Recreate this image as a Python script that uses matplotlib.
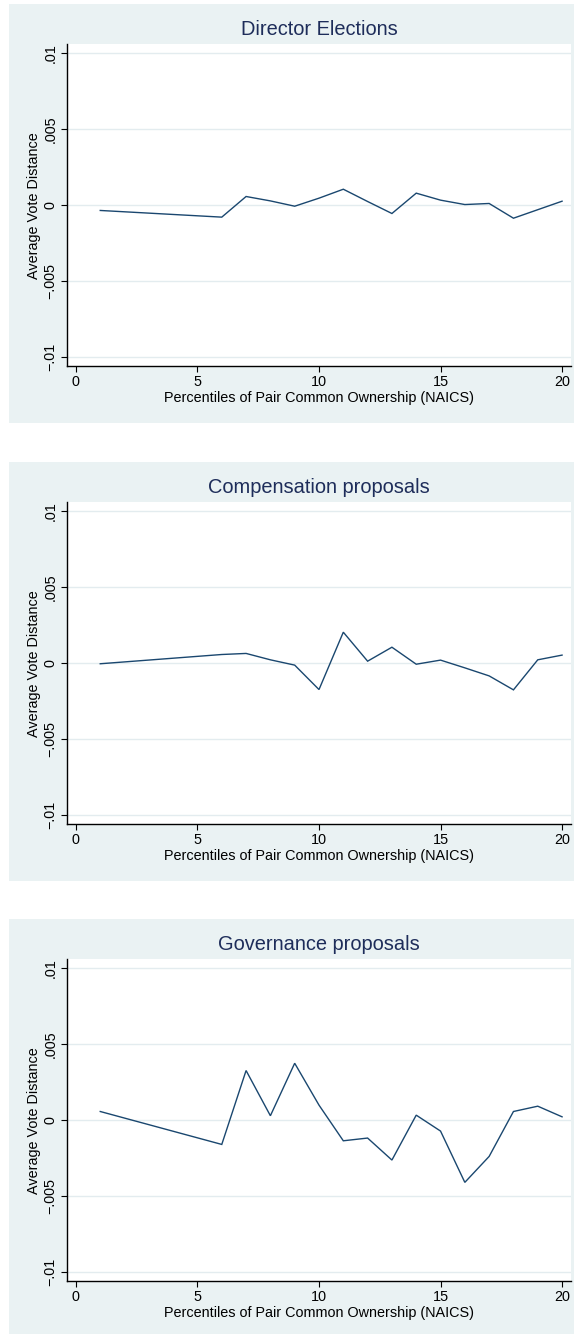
import matplotlib
matplotlib.use("Agg")
import matplotlib.pyplot as plt
from matplotlib.patches import Rectangle

plt.rcParams["font.family"] = ["Liberation Sans", "DejaVu Sans"]

# Percentile bins of pair common ownership (bins 2-5 are empty)
percentiles = [1, 6, 7, 8, 9, 10, 11, 12, 13, 14, 15, 16, 17, 18, 19, 20]

director_elections = [-0.00035, -0.00079, 0.00057, 0.00028, -0.00007, 0.00046,
                      0.00105, 0.00024, -0.00055, 0.00079, 0.00033, 0.00004,
                      0.00011, -0.00086, -0.00030, 0.00026]
compensation = [-0.00004, 0.00057, 0.00064, 0.00022, -0.00013, -0.00174,
                0.00204, 0.00013, 0.00105, -0.00007, 0.00020, -0.00031,
                -0.00084, -0.00176, 0.00022, 0.00053]
governance = [0.00057, -0.00160, 0.00327, 0.00029, 0.00375, 0.00099,
              -0.00136, -0.00118, -0.00263, 0.00033, -0.00072, -0.00410,
              -0.00239, 0.00057, 0.00092, 0.00022]

titles = ["Director Elections", "Compensation proposals", "Governance proposals"]
series = [director_elections, compensation, governance]

x_ticks = [0, 5, 10, 15, 20]
y_ticks = [-0.01, -0.005, 0, 0.005, 0.01]
y_tick_labels = ["\u2212.01", "\u2212.005", "0", ".005", ".01"]
x_label = "Percentiles of Pair Common Ownership (NAICS)"
y_label = "Average Vote Distance"

W, H = 574, 1334
DPI = 100
fig = plt.figure(figsize=(W / DPI, H / DPI), dpi=DPI)
fig.patch.set_facecolor("white")

BG = "#EAF2F3"
NAVY = "#1A476F"
TITLE_C = "#1E2D5A"
GRID_C = "#E3ECEF"
FS = 10.4


def fx(px):
    return px / W


def fy(py):
    return 1 - py / H


offsets = [0, 458, 915]
for off, title, vals in zip(offsets, titles, series):
    # light panel background behind each graph
    fig.add_artist(Rectangle((fx(9), fy(off + 423)), fx(574 - 9) + 0.01,
                             (423 - 4) / H, transform=fig.transFigure,
                             facecolor=BG, edgecolor="none", zorder=-10))
    left, right = 66.7, 571.3
    top, bottom = off + 44.3, off + 366
    ax = fig.add_axes([fx(left), fy(bottom), fx(right - left), (bottom - top) / H])
    ax.set_zorder(1)
    ax.set_facecolor("white")
    ax.plot(percentiles, vals, color=NAVY, lw=1.0, solid_joinstyle="miter")
    ax.set_xlim(-0.38, 20.38)
    ax.set_ylim(-0.0106, 0.0106)
    ax.set_xticks(x_ticks)
    ax.set_yticks(y_ticks)
    ax.set_yticklabels(y_tick_labels, rotation=90, va="center")
    ax.tick_params(axis="both", labelsize=FS, length=4.2, width=0.8,
                   color="black", labelcolor="black", pad=2.5)
    for yt in y_ticks:
        ax.axhline(yt, color=GRID_C, lw=1.0, zorder=0.5)
    for s in ["top", "right"]:
        ax.spines[s].set_visible(False)
    for s in ["left", "bottom"]:
        ax.spines[s].set_linewidth(1.0)
        ax.spines[s].set_color("black")
    ax.set_xlabel(x_label, fontsize=FS, labelpad=1.5)
    ax.set_ylabel(y_label, fontsize=FS, labelpad=2)
    ax.set_title(title, fontsize=14.4, color=TITLE_C, pad=6.5)

fig.savefig("out.png", dpi=DPI, facecolor="white")
